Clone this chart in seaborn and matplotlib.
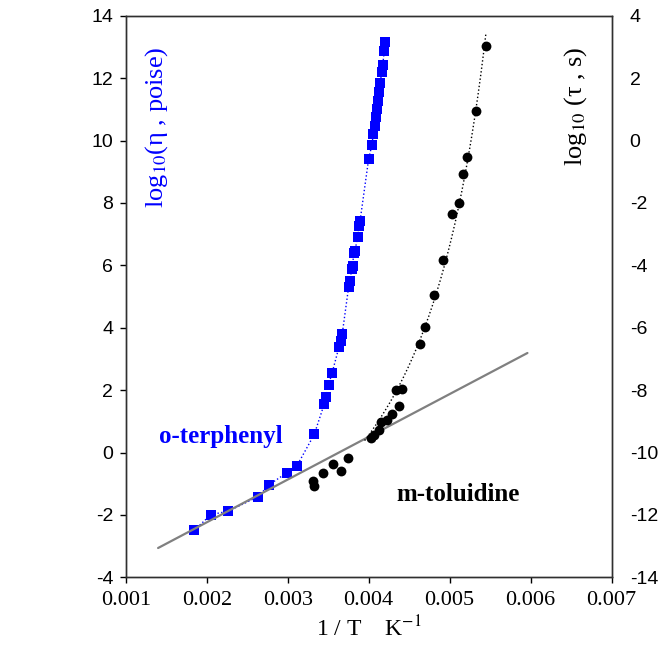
import numpy as np
import matplotlib
matplotlib.use("Agg")
import matplotlib.pyplot as plt
import seaborn as sns

# o-terphenyl: log10 viscosity (poise) against 1/T (K^-1)
otp_inv_T = [0.001847, 0.002053, 0.002267, 0.002637, 0.002773, 0.002988, 0.003111,
             0.003328, 0.003452, 0.003477, 0.003506, 0.003547, 0.003633, 0.003654,
             0.003674, 0.003753, 0.003769, 0.003790, 0.003802, 0.003815, 0.003831,
             0.003864, 0.003877, 0.003893, 0.004000, 0.004041, 0.004057, 0.004074,
             0.004090, 0.004106, 0.004119, 0.004127, 0.004143, 0.004160, 0.004173,
             0.004193, 0.004205]
otp_log_eta = [-2.49, -1.99, -1.88, -1.41, -1.03, -0.65, -0.44,
               0.58, 1.56, 1.78, 2.18, 2.54, 3.38, 3.59,
               3.81, 5.32, 5.51, 5.89, 5.99, 6.39, 6.47,
               6.92, 7.27, 7.41, 9.42, 9.87, 10.21, 10.48,
               10.74, 11.01, 11.28, 11.54, 11.83, 12.19, 12.42,
               12.88, 13.15]

# m-toluidine: log10 relaxation time (s) against 1/T (K^-1)
mtol_inv_T = [0.003316, 0.003321, 0.003432, 0.003556, 0.003658, 0.003741, 0.004025,
              0.004065, 0.004133, 0.004156, 0.004222, 0.004291, 0.004337, 0.004378,
              0.004411, 0.004633, 0.004691, 0.004810, 0.004917, 0.005032, 0.005111,
              0.005160, 0.005217, 0.005328, 0.005448]
mtol_log_tau = [-10.92, -11.06, -10.66, -10.38, -10.60, -10.18, -9.55,
                -9.43, -9.28, -9.03, -8.96, -8.76, -7.99, -8.52,
                -7.96, -6.51, -5.99, -4.94, -3.82, -2.37, -1.99,
                -1.08, -0.54, 0.94, 3.02]

# Arrhenius reference line (left-axis units)
arr_inv_T = [0.00140, 0.00596]
arr_log_eta = [-3.06, 3.19]

x_ticks = [0.001, 0.002, 0.003, 0.004, 0.005, 0.006, 0.007]
left_ticks = [-4, -2, 0, 2, 4, 6, 8, 10, 12, 14]
right_ticks = [-14, -12, -10, -8, -6, -4, -2, 0, 2, 4]


def vft_curve(x, y):
    """Least-squares Vogel-Fulcher-Tammann fit y = A + B / (T - T0)."""
    T = 1.0 / np.asarray(x)
    y = np.asarray(y)
    best = None
    for T0 in np.linspace(0.0, T.min() - 1.0, 3000):
        X = 1.0 / (T - T0)
        B, A = np.polyfit(X, y, 1)
        r = np.sum((A + B * X - y) ** 2)
        if best is None or r < best[0]:
            best = (r, A, B, T0)
    _, A, B, T0 = best
    return lambda xx: A + B / (1.0 / np.asarray(xx) - T0)


sns.set_style("white")
plt.rcParams["font.family"] = ["Liberation Serif", "DejaVu Serif"]
plt.rcParams["mathtext.fontset"] = "stix"
plt.rcParams["axes.unicode_minus"] = False

fig = plt.figure(figsize=(6.64, 6.58), dpi=100)
ax = fig.add_axes([0.1893, 0.1226, 0.7319, 0.8535])
ax2 = ax.twinx()

# dotted guide through the o-terphenyl points
sns.lineplot(x=otp_inv_T, y=otp_log_eta, ax=ax, color="blue",
             linestyle=":", linewidth=1.0, sort=True)

# fitted dotted curve for m-toluidine
mtol_fit = vft_curve(mtol_inv_T, mtol_log_tau)
xs_mtol = np.linspace(0.00395, 0.00560, 400)
ys_mtol = mtol_fit(xs_mtol)
keep = ys_mtol <= 3.5
sns.lineplot(x=xs_mtol[keep], y=ys_mtol[keep], ax=ax2, color="black",
             linestyle=":", linewidth=1.0)

# markers
sns.scatterplot(x=otp_inv_T, y=otp_log_eta, ax=ax, marker="s", s=46,
                color="blue", linewidth=0, zorder=3)
sns.lineplot(x=arr_inv_T, y=arr_log_eta, ax=ax, color="#808080",
             linewidth=1.6, zorder=4)
sns.scatterplot(x=mtol_inv_T, y=mtol_log_tau, ax=ax2, marker="o", s=50,
                color="black", linewidth=0, zorder=3)

# axes ranges and ticks
ax.set_xlim(0.001, 0.007)
ax.set_ylim(-4, 14)
ax2.set_ylim(-14, 4)
ax.set_xticks(x_ticks)
ax.set_xticklabels([f"{v:.3f}" for v in x_ticks], fontsize=16,
                   family="Liberation Serif")
ax.set_yticks(left_ticks)
ax.set_yticklabels([str(v) for v in left_ticks], fontsize=14,
                   family="Liberation Sans")
ax2.set_yticks(right_ticks)
ax2.set_yticklabels([str(v) for v in right_ticks], fontsize=14,
                    family="Liberation Sans")

ax.tick_params(axis="both", direction="out", length=4, width=1,
               color="black", labelcolor="black")
ax.tick_params(axis="x", pad=6)
ax.tick_params(axis="y", pad=5, left=True, right=False)
ax.tick_params(axis="x", bottom=True, top=False)
ax2.tick_params(axis="y", length=0, pad=13, right=True, labelcolor="black")

for a in (ax, ax2):
    for sp in a.spines.values():
        sp.set_color("#303030")
        sp.set_linewidth(1.0)
ax.set_ylabel("")
ax2.set_ylabel("")

ax.set_xlabel("1 / T    K$^{-1}$", fontsize=17, labelpad=4,
              family="Liberation Serif", color="black")

# axis titles placed inside the frame
ax.text(0.0644, 0.802, "log$_{10}$(η , poise)", transform=ax.transAxes,
        rotation=90, ha="center", va="center", fontsize=19, color="blue")
ax.text(0.9265, 0.839, "log$_{10}$ (τ , s)", transform=ax.transAxes,
        rotation=90, ha="center", va="center", fontsize=19, color="black")

# series labels
ax.text(0.001415, 0.31, "o-terphenyl", color="blue", fontsize=18,
        fontweight="bold", ha="left", va="baseline")
ax.text(0.004346, -1.55, "m-toluidine", color="black", fontsize=18,
        fontweight="bold", ha="left", va="baseline")

fig.savefig("out.png", dpi=100)
